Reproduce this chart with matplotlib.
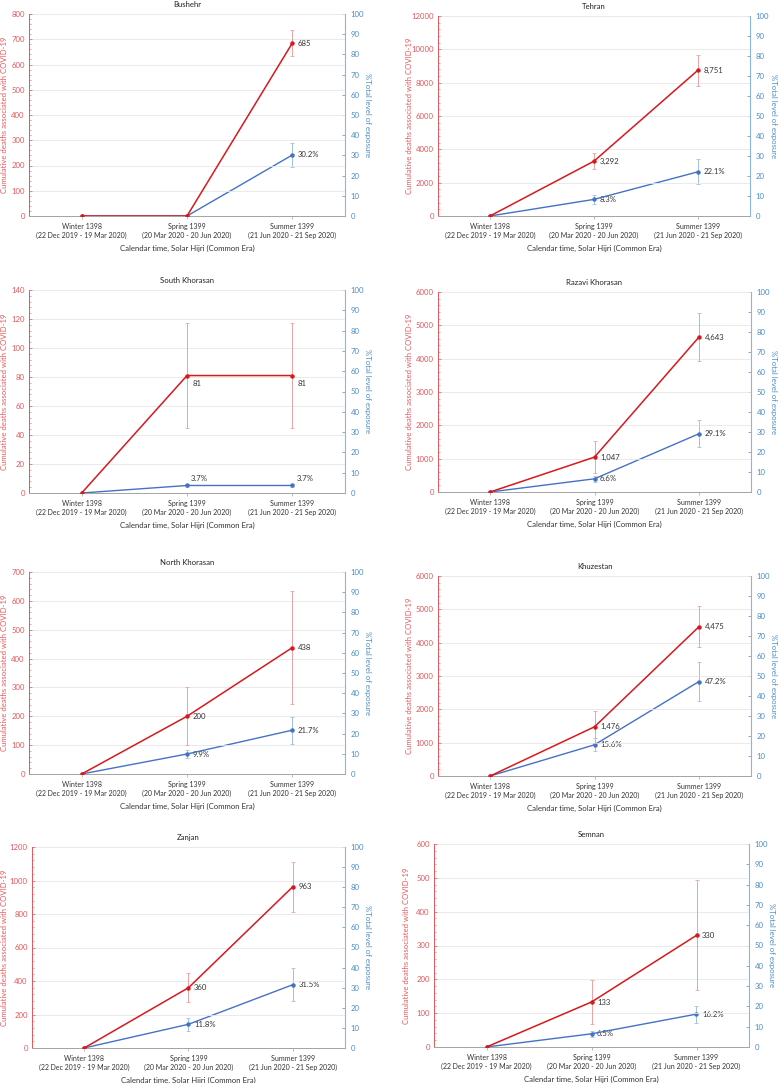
import matplotlib
matplotlib.use("Agg")
import matplotlib.pyplot as plt
from matplotlib.ticker import MultipleLocator, AutoMinorLocator
import numpy as np

plt.rcParams['font.family'] = ['Lato', 'DejaVu Sans']

categories = ["Winter 1398\n(22 Dec 2019 - 19 Mar 2020)",
              "Spring 1399\n(20 Mar 2020 - 20 Jun 2020)",
              "Summer 1399\n(21 Jun 2020 - 21 Sep 2020)"]

provinces = ["Bushehr", "Tehran", "South Khorasan", "Razavi Khorasan",
             "North Khorasan", "Khuzestan", "Zanjan", "Semnan"]

deaths = {
    "Bushehr": [0, 0, 685],
    "Tehran": [0, 3292, 8751],
    "South Khorasan": [0, 81, 81],
    "Razavi Khorasan": [0, 1047, 4643],
    "North Khorasan": [0, 200, 438],
    "Khuzestan": [0, 1476, 4475],
    "Zanjan": [0, 360, 963],
    "Semnan": [0, 133, 330],
}
deaths_err = {
    "Bushehr": [0, 0, 53],
    "Tehran": [0, 490, 930],
    "South Khorasan": [0, 36, 36],
    "Razavi Khorasan": [0, 470, 720],
    "North Khorasan": [0, 100, 195],
    "Khuzestan": [0, 480, 613],
    "Zanjan": [0, 87, 150],
    "Semnan": [0, 66, 163],
}
exposure = {
    "Bushehr": [0, 0, 30.2],
    "Tehran": [0, 8.3, 22.1],
    "South Khorasan": [0, 3.7, 3.7],
    "Razavi Khorasan": [0, 6.6, 29.1],
    "North Khorasan": [0, 9.9, 21.7],
    "Khuzestan": [0, 15.6, 47.2],
    "Zanjan": [0, 11.8, 31.5],
    "Semnan": [0, 6.5, 16.2],
}
exposure_err = {
    "Bushehr": [0, 0, 6.0],
    "Tehran": [0, 2.2, 6.2],
    "South Khorasan": [0, 0.5, 0.5],
    "Razavi Khorasan": [0, 1.6, 6.7],
    "North Khorasan": [0, 1.8, 6.7],
    "Khuzestan": [0, 3.3, 9.7],
    "Zanjan": [0, 3.1, 8.2],
    "Semnan": [0, 1.6, 4.2],
}
deaths_ymax = {"Bushehr": 800, "Tehran": 12000, "South Khorasan": 140,
               "Razavi Khorasan": 6000, "North Khorasan": 700, "Khuzestan": 6000,
               "Zanjan": 1200, "Semnan": 600}
deaths_step = {"Bushehr": 100, "Tehran": 2000, "South Khorasan": 20,
               "Razavi Khorasan": 1000, "North Khorasan": 100, "Khuzestan": 1000,
               "Zanjan": 200, "Semnan": 100}

# layout (pixels: left, right, top, bottom)
W, H = 779, 1083
boxes = [(29, 345, 14, 216), (438, 750, 16, 216),
         (29, 345, 290, 493), (438, 751, 292, 492),
         (29, 345, 572, 774), (438, 751, 576, 776),
         (32, 345, 847, 1048), (434, 749, 844, 1047)]
# left y-label distance from spine (px), right y-label distance (px)
left_lab_px = [24, 29, 24, 28, 24, 28, 27, 28]
right_lab_px = 23

# label offsets in points (red, blue) per panel
label_off = {"South Khorasan": ((4, -6), (3, 5))}

RED_LINE = "#D7191C"
RED_TXT = "#E0575B"
RED_ERR = "#EBA3A5"
BLUE_LINE = "#4472C4"
BLUE_TXT = "#4A8DC2"
BLUE_SP = "#8AB7DE"
BLUE_ERR = "#9FC1E3"
FS = 5.0
LFS = 5.6

fig = plt.figure(figsize=(W / 100, H / 100), dpi=100)
fig.patch.set_facecolor("white")

x = np.arange(len(categories))
for k, (prov, (l, r, t, b)) in enumerate(zip(provinces, boxes)):
    ax = fig.add_axes([l / W, 1 - b / H, (r - l) / W, (b - t) / H])
    ax2 = ax.twinx()
    ax.set_zorder(ax2.get_zorder() + 1)
    ax.patch.set_visible(False)

    ax.set_xlim(-0.5, 2.5)
    ax.set_ylim(0, deaths_ymax[prov])
    ax2.set_ylim(0, 100)
    ax.yaxis.set_major_locator(MultipleLocator(deaths_step[prov]))
    ax.yaxis.set_minor_locator(AutoMinorLocator(5))
    ax2.yaxis.set_major_locator(MultipleLocator(10))

    ax.grid(axis="y", color="#E6E6E6", linewidth=0.6, zorder=0)
    ax.set_axisbelow(True)

    ax2.errorbar(x, exposure[prov], yerr=exposure_err[prov], color=BLUE_LINE,
                 ecolor=BLUE_ERR, elinewidth=0.7, capsize=1.5, capthick=0.6,
                 linewidth=1.0, marker="o", markersize=2.2, zorder=3)
    ax.errorbar(x, deaths[prov], yerr=deaths_err[prov], color=RED_LINE,
                ecolor=RED_ERR, elinewidth=0.7, capsize=1.5, capthick=0.6,
                linewidth=1.1, marker="o", markersize=2.2, zorder=4)

    roff, boff = label_off.get(prov, ((4, 0), (4, 0)))
    for i in (1, 2):
        if deaths[prov][i] > 0:
            ax.annotate(f"{deaths[prov][i]:,}", (x[i], deaths[prov][i]),
                        xytext=roff, textcoords="offset points",
                        ha="left", va="center", fontsize=LFS, color="#333333")
        if exposure[prov][i] > 0:
            ax2.annotate(f"{exposure[prov][i]:.1f}%", (x[i], exposure[prov][i]),
                         xytext=boff, textcoords="offset points",
                         ha="left", va="center", fontsize=LFS, color="#333333")

    ax.set_xticks(x)
    ax.set_xticklabels(categories, fontsize=FS, color="#333333", linespacing=1.35)
    ax.tick_params(axis="x", length=2.5, width=0.5, color="#A0A0A0", pad=2.5)
    ax.tick_params(axis="y", which="major", direction="in", length=2.5, width=0.5,
                   colors=RED_TXT, labelsize=LFS, pad=3)
    ax.tick_params(axis="y", which="minor", direction="in", length=1.5, width=0.4,
                   colors=RED_TXT)
    ax2.tick_params(axis="y", direction="in", length=2.5, width=0.5,
                    colors=BLUE_TXT, labelsize=LFS, pad=4)

    for a in (ax, ax2):
        a.spines["top"].set_visible(False)
        a.spines["bottom"].set_color("#A6A6A6")
        a.spines["bottom"].set_linewidth(0.7)
    ax.spines["left"].set_color(RED_TXT)
    ax.spines["left"].set_linewidth(0.7)
    ax.spines["right"].set_visible(False)
    ax2.spines["left"].set_visible(False)
    ax2.spines["right"].set_color(BLUE_SP)
    ax2.spines["right"].set_linewidth(0.8)

    ax.set_title(prov, fontsize=LFS, color="#222222", pad=5)
    ax.set_ylabel("Cumulative deaths associated with COVID-19", fontsize=LFS,
                  color=RED_TXT, va="center")
    ax.yaxis.set_label_coords(-left_lab_px[k] / (r - l), 0.5)
    ax2.set_ylabel("%Total level of exposure", fontsize=LFS, color=BLUE_TXT,
                   rotation=270, va="center")
    ax2.yaxis.set_label_coords(1 + right_lab_px / (r - l), 0.5)
    ax.set_xlabel("Calendar time, Solar Hijri (Common Era)", fontsize=LFS,
                  color="#333333", labelpad=4)

fig.savefig("out.png", dpi=100, facecolor="white")
